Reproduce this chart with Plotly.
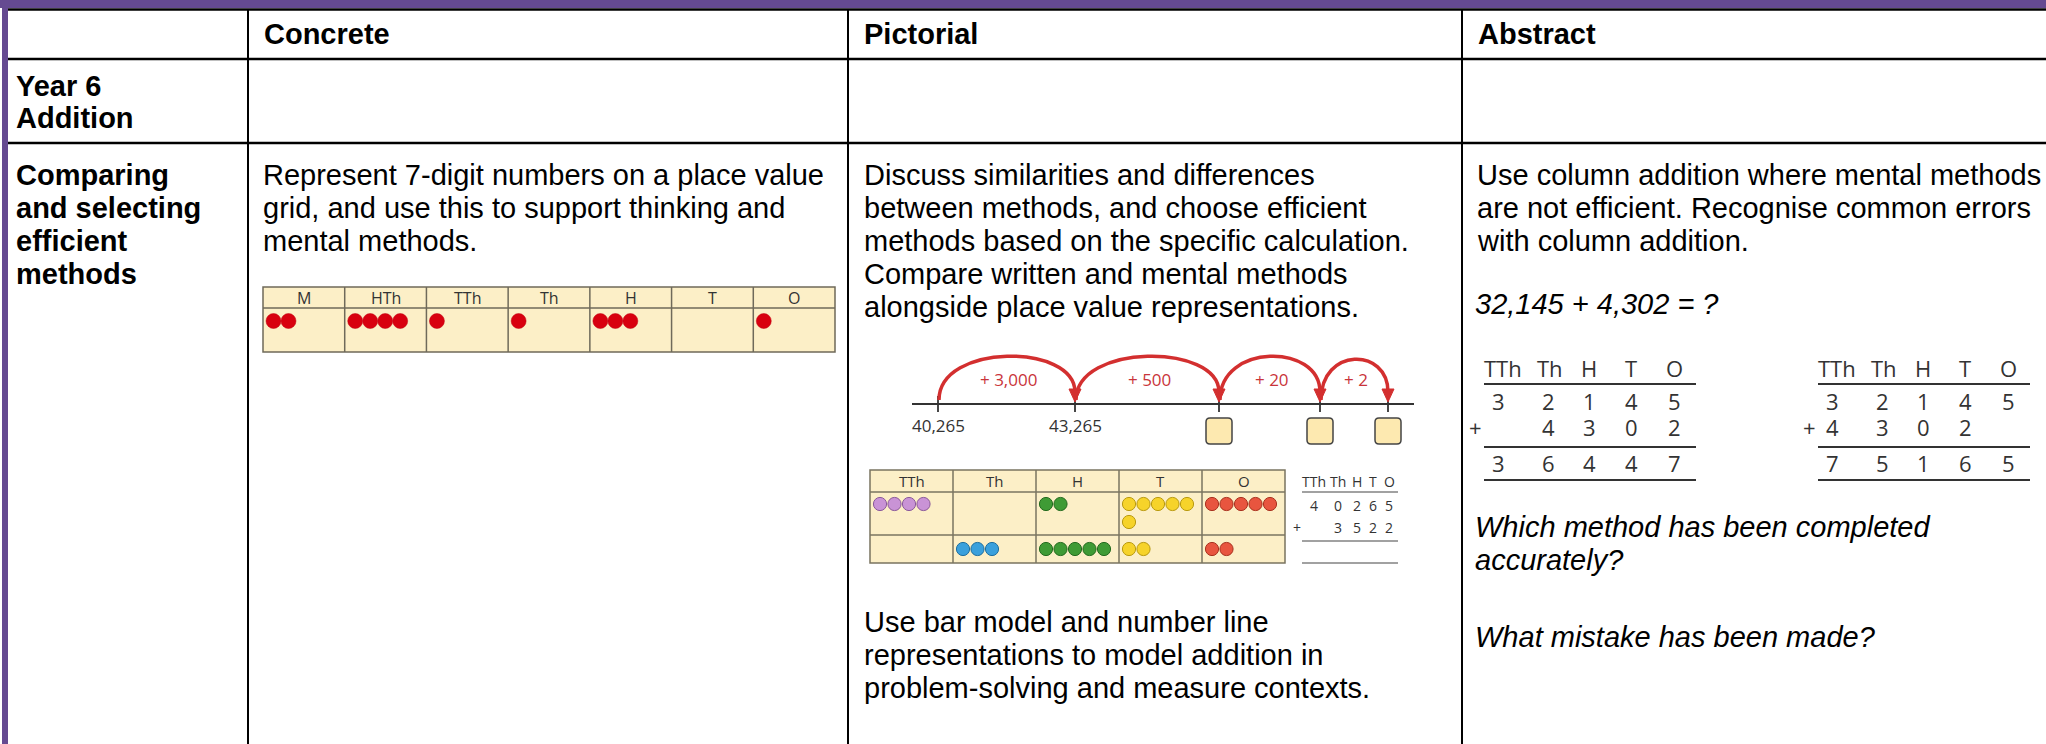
import plotly.graph_objects as go

W, H = 2046, 744

# ---------------- data ----------------
stages = ["Concrete", "Pictorial", "Abstract"]
row1_title = ["Year 6", "Addition"]
row2_title = ["Comparing", "and selecting", "efficient", "methods"]
concrete_text = ["Represent 7-digit numbers on a place value",
                 "grid, and use this to support thinking and",
                 "mental methods."]
pictorial_text = ["Discuss similarities and differences",
                  "between methods, and choose efficient",
                  "methods based on the specific calculation.",
                  "Compare written and mental methods",
                  "alongside place value representations."]
pictorial_text2 = ["Use bar model and number line",
                   "representations to model addition in",
                   "problem-solving and measure contexts."]
abstract_text = ["Use column addition where mental methods",
                 "are not efficient. Recognise common errors",
                 "with column addition."]
abstract_sum = "32,145 + 4,302 = ?"
abstract_q1 = ["Which method has been completed", "accurately?"]
abstract_q2 = ["What mistake has been made?"]

grid7_cols = ["M", "HTh", "TTh", "Th", "H", "T", "O"]
grid7_counts = [2, 4, 1, 1, 3, 0, 1]          # 2,411,301

pv_cols = ["TTh", "Th", "H", "T", "O"]
pv_top_counts = [4, 0, 2, 6, 5]               # 40,265
pv_bottom_counts = [0, 3, 5, 2, 2]            # 3,522
pv_colors = ["#c993d6", "#3aa0dc", "#3f9b35", "#f6d32a", "#e8553f"]
pv_edges = ["#8a5a9a", "#1f6f9f", "#256b1f", "#b99a10", "#a8321f"]

numline_labels = ["40,265", "43,265", "", "", ""]
numline_jumps = ["+ 3,000", "+ 500", "+ 20", "+ 2"]

mini_top = ["4", "0", "2", "6", "5"]
mini_add = ["", "3", "5", "2", "2"]

colA_top = ["3", "2", "1", "4", "5"]
colA_add = ["", "4", "3", "0", "2"]
colA_sum = ["3", "6", "4", "4", "7"]
colB_top = ["3", "2", "1", "4", "5"]
colB_add = ["4", "3", "0", "2", ""]
colB_sum = ["7", "5", "1", "6", "5"]

# ---------------- layout constants ----------------
PURPLE = "#654a91"
COL_X = [248, 848, 1462]
ROW_Y = [9.5, 59, 143]
BODY = "Liberation Sans, Arial, sans-serif"
ROUND = "Open Sans, Noto Sans, sans-serif"
FS = 29
LS = 33

shapes = []
ann = []


def text(x, y, s, size=FS, color="#000", family=BODY, anchor="left"):
    ann.append(dict(x=x, y=y, xref="x", yref="y", text=s, showarrow=False,
                    xanchor=anchor, yanchor="middle",
                    font=dict(size=size, color=color, family=family)))


def line(x0, y0, x1, y1, color="#000", width=2):
    shapes.append(dict(type="line", x0=x0, y0=y0, x1=x1, y1=y1, xref="x", yref="y",
                       line=dict(color=color, width=width)))


def rect(x0, y0, x1, y1, fill, color=None, width=0):
    shapes.append(dict(type="rect", x0=x0, y0=y0, x1=x1, y1=y1, xref="x", yref="y",
                       fillcolor=fill, line=dict(color=color or fill, width=width), layer="below"))


def circle(cx, cy, r, fill, edge, width=1):
    shapes.append(dict(type="circle", x0=cx - r, x1=cx + r, y0=cy - r, y1=cy + r,
                       xref="x", yref="y", fillcolor=fill, line=dict(color=edge, width=width)))


def path(d, color, width=0, fill=None):
    s = dict(type="path", path=d, xref="x", yref="y", line=dict(color=color, width=width))
    if fill:
        s["fillcolor"] = fill
    shapes.append(s)


# ---------------- table frame ----------------
rect(0, 0, W, 8, PURPLE)
rect(2, 0, 8, H, PURPLE)
for y in ROW_Y:
    line(8, y, W, y, width=2.5)
for x in COL_X:
    line(x, 9, x, H, width=2)

# header
for i, s in enumerate(stages):
    text(COL_X[i] + 14, 34, "<b>%s</b>" % s)
for i, s in enumerate(row1_title):
    text(14, 86 + i * 32, "<b>%s</b>" % s)
for i, s in enumerate(row2_title):
    text(14, 175 + i * LS, "<b>%s</b>" % s)

# ---------------- concrete ----------------
for i, s in enumerate(concrete_text):
    text(COL_X[0] + 13, 175 + i * LS, s)

gx0, gx1, gy0, gyh, gy1 = 263, 835, 287, 308, 352
cw = (gx1 - gx0) / len(grid7_cols)
rect(gx0, gy0, gx1, gy1, "#fcefc7", "#6f6a5a", 1.5)
line(gx0, gyh, gx1, gyh, "#6f6a5a", 1.5)
for i, lab in enumerate(grid7_cols):
    if i:
        line(gx0 + i * cw, gy0, gx0 + i * cw, gy1, "#6f6a5a", 1.5)
    text(gx0 + (i + 0.5) * cw, (gy0 + gyh) / 2, lab, 16, "#333", ROUND, "center")
    for k in range(grid7_counts[i]):
        circle(gx0 + i * cw + 10.5 + k * 15, gyh + 13, 7.5, "#d8000f", "#c00010", 0.5)

# ---------------- pictorial ----------------
PX = COL_X[1] + 14
for i, s in enumerate(pictorial_text):
    text(PX, 175 + i * LS, s)
for i, s in enumerate(pictorial_text2):
    text(PX, 622 + i * LS, s)

# number line
NL_Y = 404
tick_x = [938, 1075, 1219, 1320, 1388]
line(912, NL_Y, 1414, NL_Y, "#333", 1.8)
RED = "#d32f2f"
for i, x in enumerate(tick_x):
    line(x, NL_Y - 8, x, NL_Y + 8, "#333", 1.8)
    if numline_labels[i]:
        text(x, 425, numline_labels[i], 17, "#333", ROUND, "center")
    else:
        path("M %f,418 L %f,418 Q %f,418 %f,422 L %f,440 Q %f,444 %f,444 L %f,444 Q %f,444 %f,440 L %f,422 Q %f,418 %f,418 Z"
             % (x - 9, x + 9, x + 13, x + 13, x + 13, x + 13, x + 9, x - 9, x - 13, x - 13, x - 13, x - 13, x - 9),
             "#444", 1.5, "#fde9b0")
for i, lab in enumerate(numline_jumps):
    a, b = tick_x[i], tick_x[i + 1]
    peak = 343 if i < 3 else 347
    path("M %f,%f C %f,%f %f,%f %f,%f" % (a + 1, NL_Y - 4, a + 1, peak, b, peak, b, NL_Y - 12),
         RED, 3.5)
    path("M %f,%f L %f,%f L %f,%f Z" % (b - 6, NL_Y - 15, b + 6, NL_Y - 15, b, NL_Y - 2), RED, 1, RED)
    text((a + b) / 2 + 2, 379, lab, 17, "#c9343a", ROUND, "center")

# place value table with counters
tx0, tcw = 870, 83
ty = [470, 492, 535, 563]
rect(tx0, ty[0], tx0 + tcw * 5, ty[3], "#fcefc7", "#7a7460", 1.5)
line(tx0, ty[1], tx0 + tcw * 5, ty[1], "#7a7460", 1.5)
line(tx0, ty[2], tx0 + tcw * 5, ty[2], "#7a7460", 1.5)
for i, lab in enumerate(pv_cols):
    if i:
        line(tx0 + i * tcw, ty[0], tx0 + i * tcw, ty[3], "#7a7460", 1.5)
    text(tx0 + (i + 0.5) * tcw, (ty[0] + ty[1]) / 2, lab, 15, "#333", ROUND, "center")
    for row, counts, yc in ((0, pv_top_counts, 504), (1, pv_bottom_counts, 549)):
        for k in range(counts[i]):
            cx = tx0 + i * tcw + 10 + (k % 5) * 14.5
            cy = yc + (k // 5) * 18
            circle(cx, cy, 6.6, pv_colors[i], pv_edges[i], 1)

# mini column addition
mini_x = [1314, 1338, 1357, 1373, 1389]
for i, lab in enumerate(pv_cols):
    text(mini_x[i], 481, lab, 14, "#333", ROUND, "center")
    text(mini_x[i], 505, mini_top[i], 14, "#333", ROUND, "center")
    if mini_add[i]:
        text(mini_x[i], 527, mini_add[i], 14, "#333", ROUND, "center")
line(1302, 492, 1398, 492, "#444", 1.2)
text(1297, 527, "+", 14, "#333", ROUND, "center")
line(1302, 541, 1398, 541, "#444", 1.2)
line(1302, 563, 1398, 563, "#444", 1.2)

# ---------------- abstract ----------------
AX = COL_X[2] + 13
for i, s in enumerate(abstract_text):
    text(AX, 175 + i * LS, s)
text(AX - 2, 304, "<i>%s</i>" % abstract_sum)
for i, s in enumerate(abstract_q1):
    text(AX - 2, 527 + i * LS, "<i>%s</i>" % s)
for i, s in enumerate(abstract_q2):
    text(AX - 2, 637 + i * LS, "<i>%s</i>" % s)


def column_addition(x_digits, top, add, total):
    hdr_dx = [5, 2, 0, 0, 0]
    for i, lab in enumerate(pv_cols):
        text(x_digits[i] + hdr_dx[i], 368, lab, 22, "#333", ROUND, "center")
        text(x_digits[i], 401, top[i], 22, "#333", ROUND, "center")
        if add[i]:
            text(x_digits[i], 427, add[i], 22, "#333", ROUND, "center")
        text(x_digits[i], 463, total[i], 22, "#333", ROUND, "center")
    l0, l1 = x_digits[0] - 14, x_digits[-1] + 22
    text(x_digits[0] - 23, 427, "+", 22, "#333", ROUND, "center")
    for y in (384, 447, 480):
        line(l0, y, l1, y, "#333", 1.8)


colA_x = [1498, 1548, 1589, 1631, 1674]
colB_x = [x + 334 for x in colA_x]
column_addition(colA_x, colA_top, colA_add, colA_sum)
column_addition(colB_x, colB_top, colB_add, colB_sum)

fig = go.Figure()
fig.add_trace(go.Scatter(x=[0, W], y=[0, H], mode="markers", marker=dict(opacity=0), hoverinfo="skip"))
fig.update_layout(
    width=W, height=H, margin=dict(l=0, r=0, t=0, b=0),
    paper_bgcolor="white", plot_bgcolor="white", showlegend=False,
    xaxis=dict(range=[0, W], visible=False, fixedrange=True),
    yaxis=dict(range=[H, 0], visible=False, fixedrange=True),
    shapes=shapes, annotations=ann,
)
fig.write_html("out.html", config={"displayModeBar": False},
               post_script="document.body.style.margin='0';document.body.style.overflow='hidden';")
